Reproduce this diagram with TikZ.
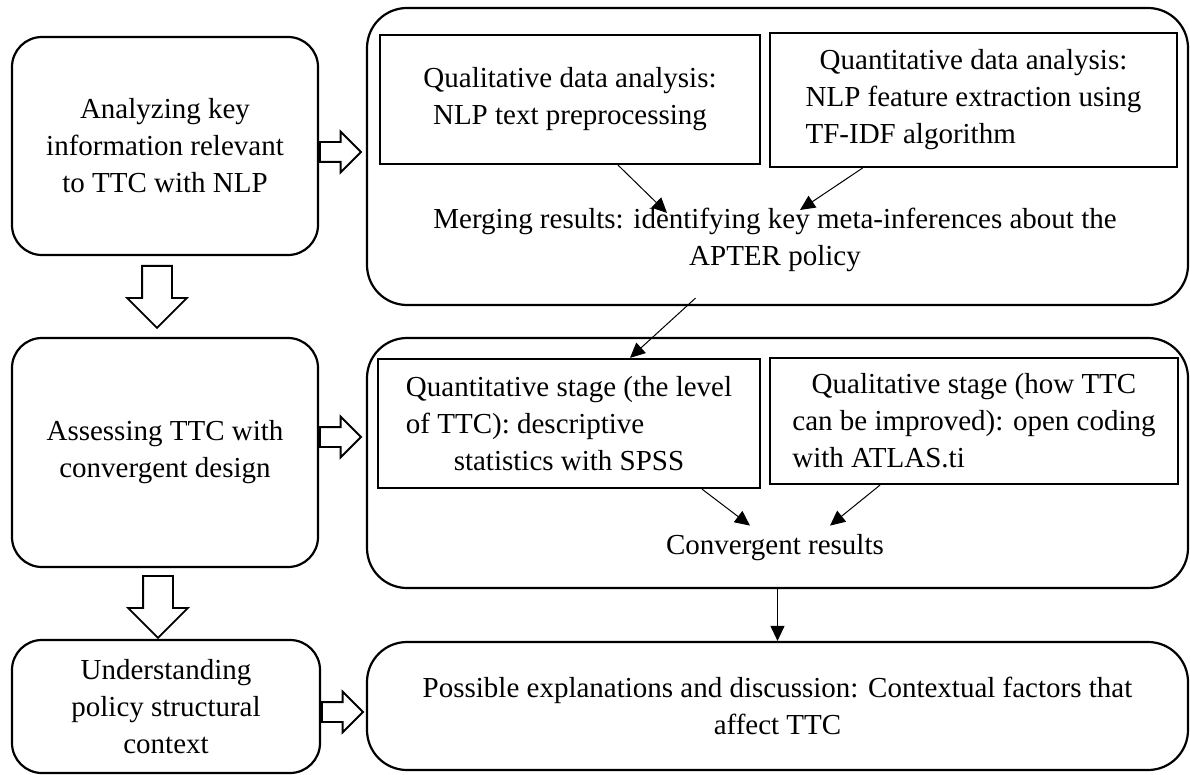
\documentclass[tikz,border=0pt]{standalone}
\usepackage{fontspec}
\setmainfont{Liberation Serif}
\usepackage{calc}
\usepackage{tikz}
\usetikzlibrary{shapes.arrows,arrows.meta,calc}

\newcommand{\padleft}[2]{\makebox[\widthof{#1}][l]{#2}}

\begin{document}
\begin{tikzpicture}[x=1pt,y=-1pt,
    every node/.style={font=\fontsize{29}{37}\selectfont},
    stage/.style={draw,line width=2.2pt,rounded corners=30pt,align=center,inner sep=0pt},
    panel/.style={draw,line width=2.2pt,rounded corners=40pt,inner sep=0pt,minimum width=821pt},
    task/.style={draw,line width=2.2pt,align=center,inner sep=0pt},
    link/.style={-{Triangle[length=15pt,width=14pt]},line width=1pt},
    sidearrow/.style={draw,line width=1.8pt,shape=single arrow,single arrow tip angle=90,
      single arrow head extend=10.5pt,inner sep=9pt,minimum height=41pt,anchor=tail},
    downarrow/.style={sidearrow,shape border rotate=270,single arrow head extend=15pt,
      inner sep=14pt,minimum height=62pt}]
  \useasboundingbox (0,0) rectangle (1190,775);

  % left column
  \node[stage,minimum width=306pt,minimum height=218pt] (analyze) at (165,146)
    {Analyzing key\\information relevant\\to TTC with NLP};
  \node[stage,minimum width=306pt,minimum height=229pt] (assess) at (165,452.5)
    {Assessing TTC with\\convergent design};
  \node[stage,minimum width=308pt,minimum height=133pt] (understand) at (166,706.5)
    {Understanding\\policy structural\\context};

  % right column
  \node[panel,minimum height=297pt] (nlp) at (777.5,156.5) {};
  \node[panel,minimum height=250pt] (conv) at (777.5,463) {};
  \node[panel,minimum height=128pt,align=center] (explain) at (777.5,706)
    {Possible explanations and discussion: Contextual factors that\\affect TTC};

  \node[task,minimum width=380pt,minimum height=129pt] (qualnlp) at (570,99.5)
    {Qualitative data analysis:\\NLP text preprocessing};
  \node[task,minimum width=407pt,minimum height=134pt] (quantnlp) at (973.5,100)
    {Quantitative data analysis:\\NLP feature extraction using\\
     \padleft{NLP feature extraction using}{TF-IDF algorithm}};
  \node[align=center,inner sep=2pt] (merge) at (775,240)
    {Merging results: identifying key meta-inferences about the\\APTER policy};

  \node[task,minimum width=382pt,minimum height=129pt] (quantst) at (569,423.5)
    {Quantitative stage (the level\\
     \padleft{Quantitative stage (the level}{of TTC): descriptive}\\statistics with SPSS};
  \node[task,minimum width=408pt,minimum height=126pt] (qualst) at (974,421)
    {Qualitative stage (how TTC\\can be improved): open coding\\
     \padleft{can be improved): open coding}{with ATLAS.ti}};
  \node[inner sep=2pt] (result) at (775,548) {Convergent results};

  % block arrows
  \node[sidearrow] (a1) at (analyze.east |- 0,152) {};
  \node[sidearrow] (a2) at (assess.east |- 0,437) {};
  \node[sidearrow] (a3) at (understand.east |- 0,712) {};
  \node[downarrow] (d1) at (157,265) {};
  \node[downarrow] (d2) at (158,575) {};

  % connectors
  \draw[link] ([xshift=48pt]qualnlp.south) -- ($(merge.north)+(-108,7)$);
  \draw[link] ([xshift=-111pt]quantnlp.south) -- ($(merge.north)+(25,4)$);
  \draw[link] ($(nlp.south)+(-82,-8)$) -- ([xshift=61pt]quantst.north);
  \draw[link] ([xshift=133pt]quantst.south) -- ($(result.north)+(-25,-7)$);
  \draw[link] ([xshift=-94pt]qualst.south) -- ($(result.north)+(55,-7)$);
  \draw[link] (conv.south) -- (explain.north);
\end{tikzpicture}
\end{document}
